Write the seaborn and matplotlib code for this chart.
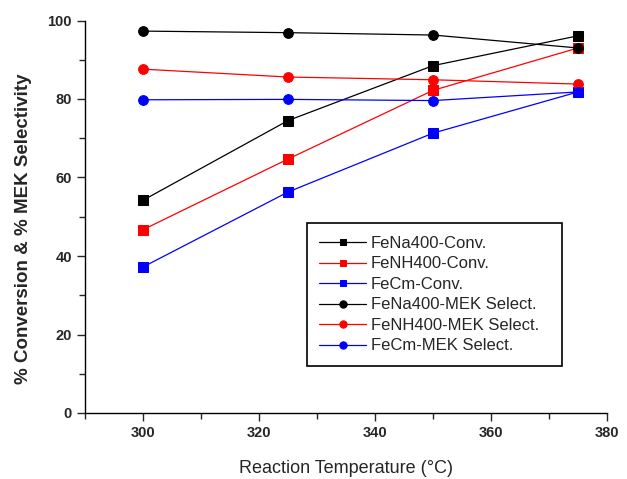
import matplotlib
matplotlib.use("Agg")
import matplotlib.pyplot as plt
import seaborn as sns
from matplotlib.ticker import MultipleLocator

sns.set_style("ticks")
plt.rcParams['font.family'] = ['Liberation Sans', 'DejaVu Sans']

temps = [300, 325, 350, 375]
fena_conv = [54.2, 74.5, 88.5, 96.1]
fenh_conv = [46.7, 64.7, 82.2, 93.0]
fecm_conv = [37.2, 56.3, 71.3, 81.8]
fena_mek = [97.3, 96.9, 96.3, 93.0]
fenh_mek = [87.6, 85.6, 84.9, 83.8]
fecm_mek = [79.8, 79.9, 79.6, 81.8]

labels = ["FeNa400-Conv.", "FeNH400-Conv.", "FeCm-Conv.",
          "FeNa400-MEK Select.", "FeNH400-MEK Select.", "FeCm-MEK Select."]
series = [fena_conv, fenh_conv, fecm_conv, fena_mek, fenh_mek, fecm_mek]
colors = ["black", "red", "blue", "black", "red", "blue"]
markers = ["s", "s", "s", "o", "o", "o"]

fig = plt.figure(figsize=(6.27, 4.79), dpi=100)
ax = fig.add_axes([85/627, 1-413/479, (607-85)/627, (413-20.5)/479])

for vals, lab, c, m in zip(series, labels, colors, markers):
    sns.lineplot(x=temps, y=vals, ax=ax, color=c, marker=m, markersize=7 if m == "o" else 6.5,
                 markeredgecolor=c, linewidth=0.9, label=lab)

ax.set_xlim(290, 380)
ax.set_ylim(0, 100)
ax.xaxis.set_major_locator(MultipleLocator(20))
ax.xaxis.set_minor_locator(MultipleLocator(10))
ax.yaxis.set_major_locator(MultipleLocator(20))
ax.yaxis.set_minor_locator(MultipleLocator(10))
ax.tick_params(which="major", direction="out", length=6, width=1, labelsize=10.5)
ax.tick_params(which="minor", direction="out", length=4, width=1)
for t in ax.get_xticklabels() + ax.get_yticklabels():
    t.set_fontweight("bold")
ax.spines["top"].set_visible(False)
ax.spines["right"].set_visible(False)
for s in ["left", "bottom"]:
    ax.spines[s].set_linewidth(1)
    ax.spines[s].set_color("black")

ax.set_xlabel("Reaction Temperature (°C)", fontsize=13, labelpad=14)
ax.set_ylabel("% Conversion & % MEK Selectivity", fontsize=13.5, fontweight="bold")
ax.yaxis.set_label_coords(-0.102, 0.47)

leg = ax.legend(loc="upper left", bbox_to_anchor=(0.425, 0.130, 0.488, 0.353),
                mode="expand", fontsize=12, borderaxespad=0, markerscale=0.75,
                frameon=True, fancybox=False, edgecolor="black", framealpha=1,
                handlelength=2.8, labelspacing=0.33, borderpad=0.75, handletextpad=0.3)
leg.get_frame().set_linewidth(1.2)

fig.savefig("out.png", dpi=100)
